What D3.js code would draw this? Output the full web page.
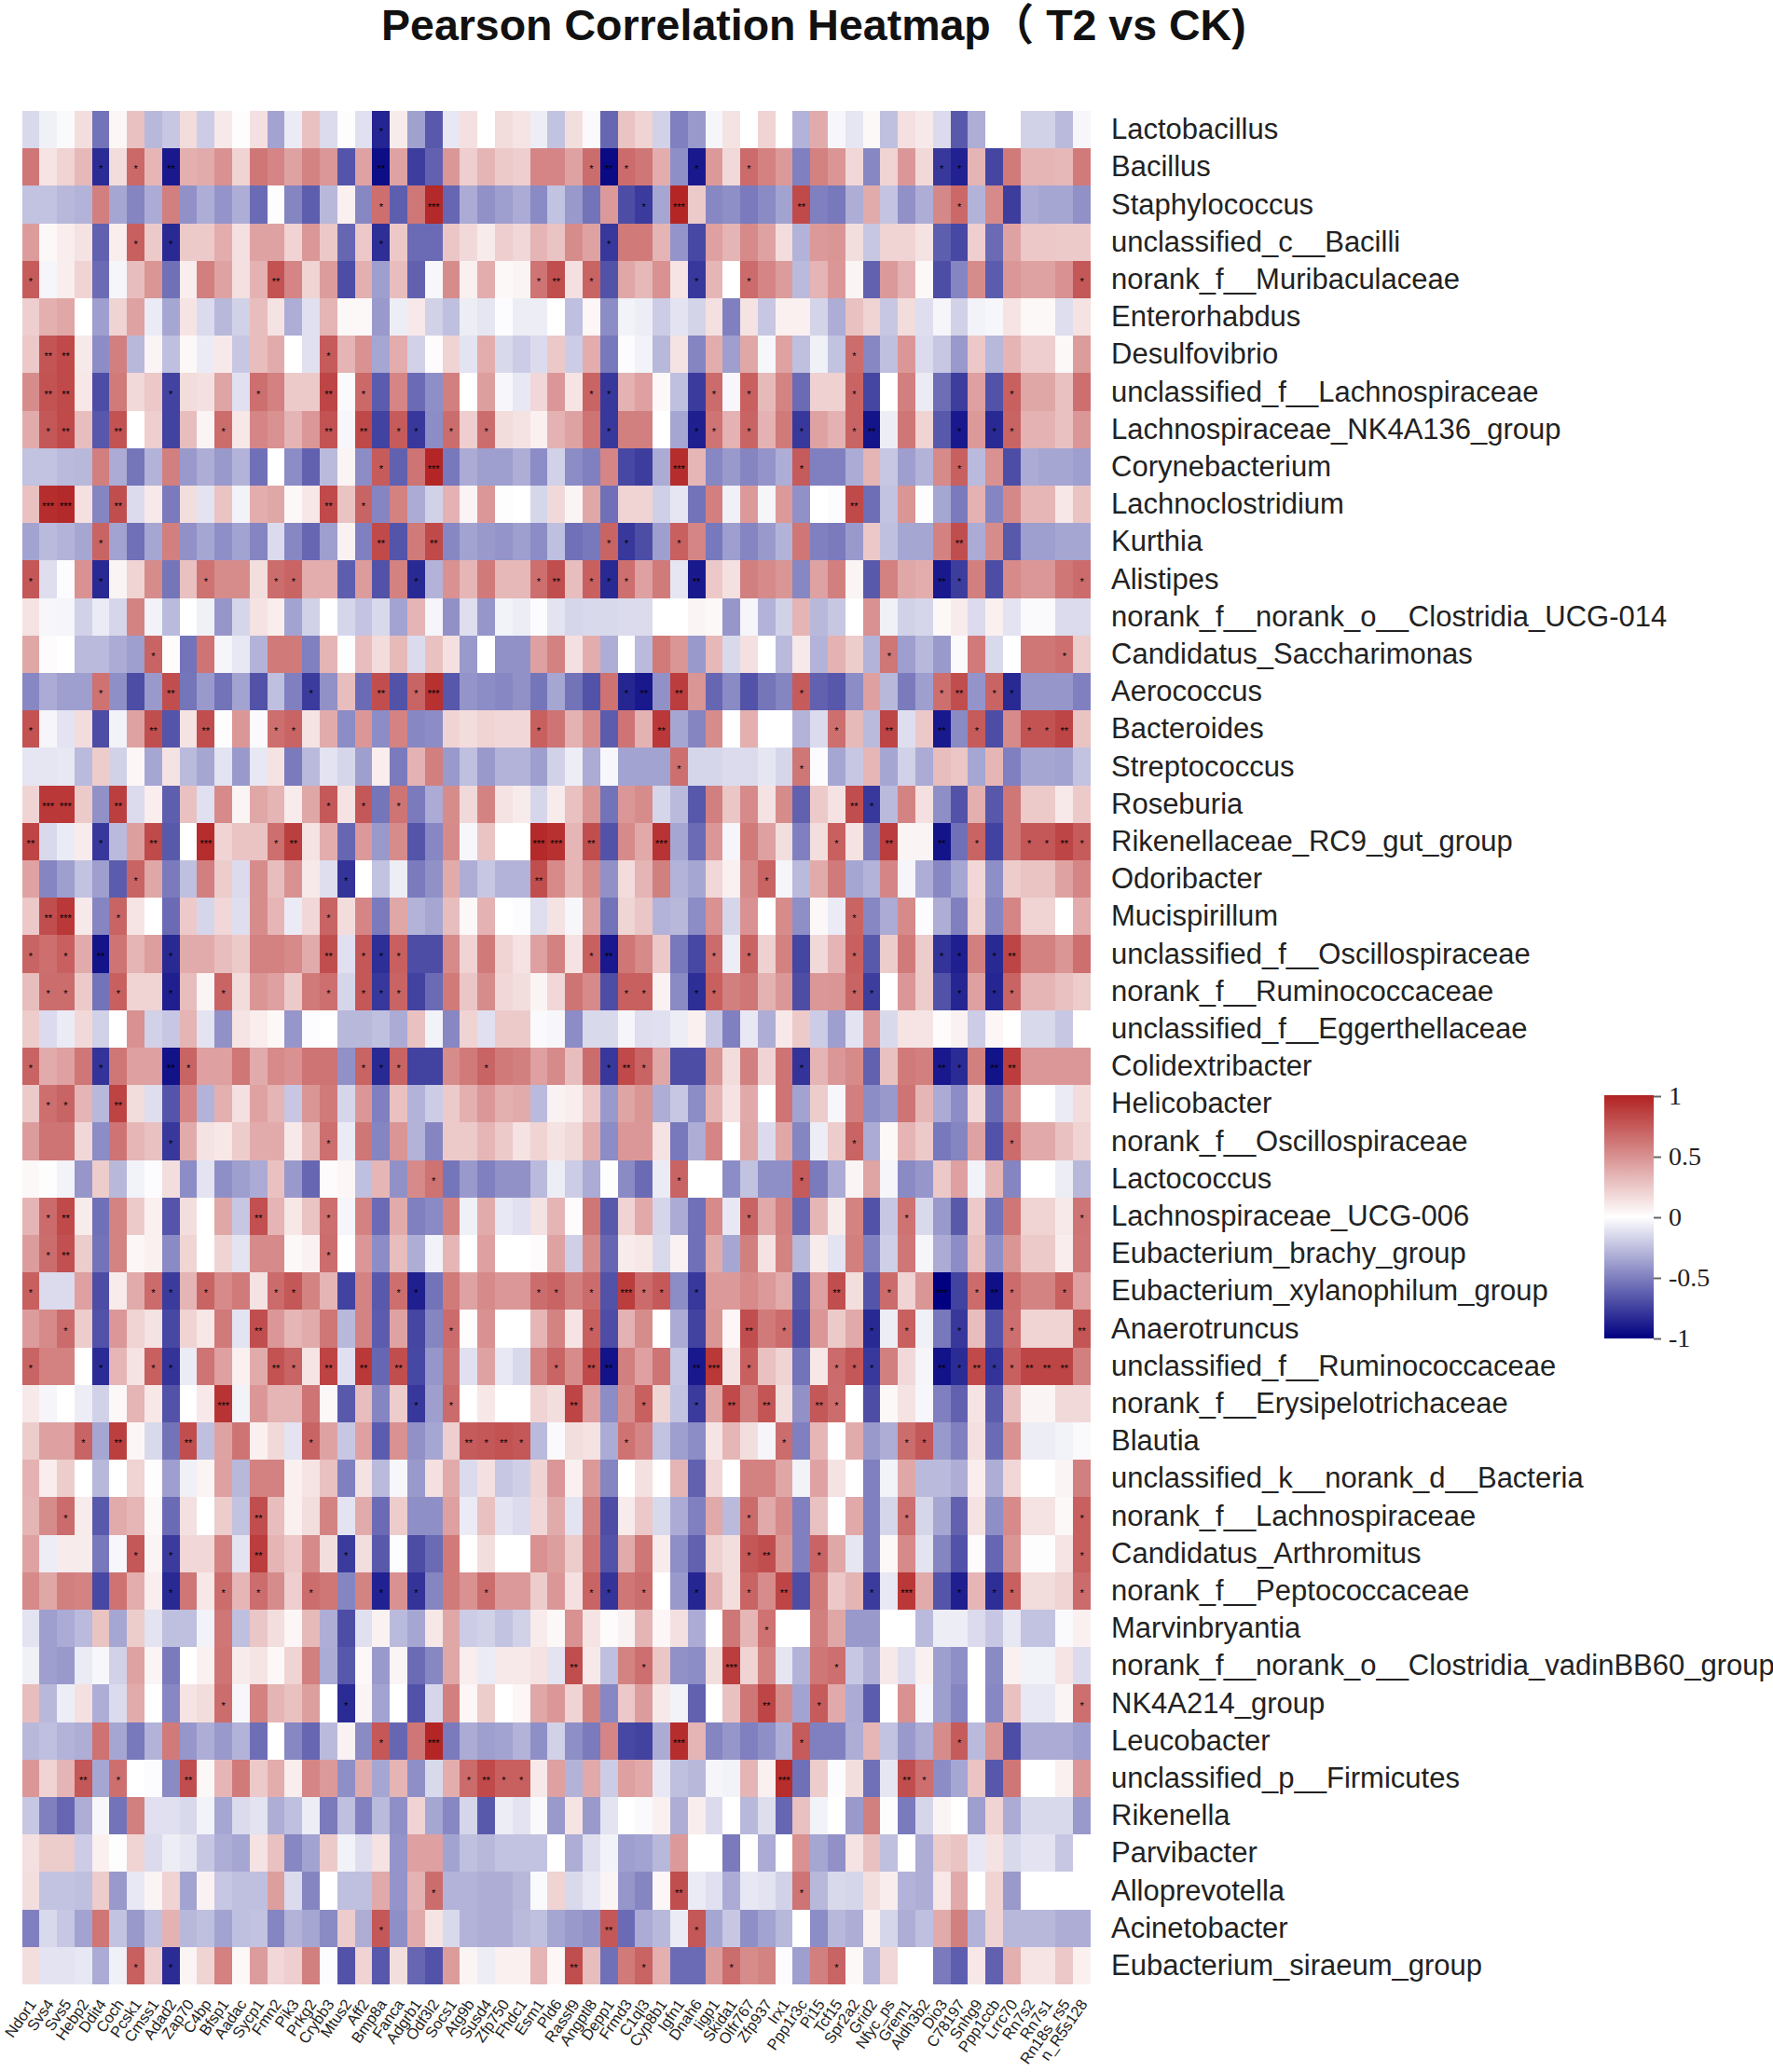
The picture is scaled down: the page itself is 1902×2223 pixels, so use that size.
<!DOCTYPE html>
<html>
<head>
<meta charset="utf-8">
<script src="https://cdn.jsdelivr.net/npm/d3@7"></script>
<style>
	html, body { margin: 0; padding: 0; background: #fff; }
	svg { display: block; }
	text { font-family: "Liberation Sans", Arial, sans-serif; fill: #111; }
</style>
</head>
<body>
<div id="chart"></div>
<script>
//Taxa down the right side, top to bottom
var taxa = ["Lactobacillus","Bacillus","Staphylococcus","unclassified_c__Bacilli","norank_f__Muribaculaceae","Enterorhabdus","Desulfovibrio","unclassified_f__Lachnospiraceae","Lachnospiraceae_NK4A136_group","Corynebacterium","Lachnoclostridium","Kurthia","Alistipes","norank_f__norank_o__Clostridia_UCG-014","Candidatus_Saccharimonas","Aerococcus","Bacteroides","Streptococcus","Roseburia","Rikenellaceae_RC9_gut_group","Odoribacter","Mucispirillum","unclassified_f__Oscillospiraceae","norank_f__Ruminococcaceae","unclassified_f__Eggerthellaceae","Colidextribacter","Helicobacter","norank_f__Oscillospiraceae","Lactococcus","Lachnospiraceae_UCG-006","Eubacterium_brachy_group","Eubacterium_xylanophilum_group","Anaerotruncus","unclassified_f__Ruminococcaceae","norank_f__Erysipelotrichaceae","Blautia","unclassified_k__norank_d__Bacteria","norank_f__Lachnospiraceae","Candidatus_Arthromitus","norank_f__Peptococcaceae","Marvinbryantia","norank_f__norank_o__Clostridia_vadinBB60_group","NK4A214_group","Leucobacter","unclassified_p__Firmicutes","Rikenella","Parvibacter","Alloprevotella","Acinetobacter","Eubacterium_siraeum_group"];

//Genes along the bottom, left to right
var genes = ["Ndor1","Svs4","Svs5","Hebp2","Ddit4","Coch","Pcsk1","Cmss1","Adad2","Zap70","C4bp","Bfsp1","Aadac","Sycp1","Fmn2","Pik3","Prkg2","Crybb3","Mtus2","Aff2","Bmp8a","Fanca","Adgrb1","Odf3l2","Socs1","Atg9b","Susd4","Zfp750","Fhdc1","Esm1","Pld6","Rassf9","Angptl8","Depp1","Frmd3","C1ql3","Cyp8b1","Igfn1","Dnah6","Iigp1","Skida1","Olfr767","Zfp937","Irx1","Ppp1r3c","Pi15","Tcf15","Spr2a2","Grid2","Nfyc_ps","Grem1","Aldh3b2","Dio3","C78197","Snhg9","Ppp1ccb","Lrrc70","Rn7s2","Rn7s1","Rn18s_rs5","n_R5s128"];

//Correlation x 100, one row per taxon
var corrRows = [
[-15,-6,-2,15,-55,4,28,-28,-22,16,-20,10,1,14,-36,-8,28,-14,1,-12,-86,9,-37,-65,-9,14,0,16,12,-7,-24,15,-2,-60,27,20,-18,-50,-40,-4,13,0,20,0,-30,38,-3,-10,3,-25,14,10,-14,-65,-32,0,0,-18,-18,-27,-3],
[62,12,20,32,-83,16,68,33,-90,36,38,50,20,62,55,42,56,47,-67,42,-95,42,-76,-62,47,22,34,24,22,55,55,42,66,-96,67,62,37,-44,-90,46,17,67,57,46,-50,57,48,18,-47,20,47,17,-78,-87,34,-73,60,34,34,32,60],
[-24,-24,-28,-30,58,-35,-48,-33,58,-43,-32,-42,-32,-58,1,-48,-63,-28,7,-47,65,-63,62,97,-60,-33,-43,-38,-33,-46,-24,-40,-55,46,-70,-77,-35,98,24,-47,-44,-52,-46,-36,82,-50,-53,-32,38,-23,-43,-32,54,68,-30,53,-76,-33,-35,-35,-43],
[45,3,8,13,-62,8,72,24,-84,24,24,37,14,42,42,20,47,25,-60,25,-82,25,-58,-58,26,17,9,22,18,34,27,52,42,-78,60,60,34,-42,-72,43,34,53,42,16,-30,46,48,15,-22,20,20,13,-63,-72,22,-58,42,25,25,24,24],
[74,-4,8,20,-58,-4,30,48,-56,8,58,42,14,35,78,55,20,45,-70,36,-38,30,-62,-3,52,7,37,3,5,63,80,14,70,-68,40,32,50,12,-78,33,0,67,55,45,-27,34,47,5,-62,46,35,3,-70,-48,52,-64,47,42,42,50,76],
[22,36,40,0,-38,20,42,-8,-35,12,-14,-28,-18,30,13,-32,-12,34,3,3,-40,-7,10,-18,-25,-7,-10,-1,-7,-7,0,-25,4,-45,-5,-7,-20,-11,-17,14,-50,13,-22,7,7,-17,-32,28,20,-22,16,-13,-4,-18,-5,-3,12,3,3,-13,13],
[25,77,82,10,-45,58,-28,5,-25,3,-8,10,-22,30,38,0,-12,74,34,50,-35,37,-18,2,20,-11,37,-15,-20,-14,25,-20,37,-53,-1,-5,-28,13,-48,37,-38,40,-3,42,-25,-6,-24,66,-47,-25,47,-14,-22,-40,25,-28,34,22,22,3,45],
[52,78,82,11,-70,60,17,25,-74,16,14,41,-12,65,57,24,24,84,-2,68,-64,55,-58,-44,58,0,44,-3,-9,18,47,12,70,-78,35,43,3,-25,-77,67,-3,72,31,56,-58,21,21,70,-73,0,58,-8,-57,-76,43,-68,72,40,40,28,65],
[38,76,82,30,-66,78,0,22,-74,30,5,66,11,55,50,34,47,78,-3,83,-74,74,-78,-45,66,22,66,16,13,7,35,42,63,-78,58,58,0,-35,-88,63,35,70,35,60,-78,42,35,70,-92,-7,62,20,-65,-90,46,-84,70,35,35,28,47],
[-24,-24,-27,-28,58,-33,-54,-30,58,-40,-32,-40,-30,-56,0,-45,-62,-27,5,-45,74,-62,63,98,-53,-33,-38,-38,-32,-45,-18,-45,-50,55,-72,-76,-33,95,33,-47,-40,-48,-42,-32,74,-50,-50,-33,34,-22,-38,-30,53,72,-27,50,-70,-33,-35,-35,-38],
[28,95,97,14,-48,80,-14,10,-52,15,-11,27,-5,37,40,3,11,82,27,70,-48,57,-33,-18,35,5,47,1,0,-16,17,5,40,-56,20,20,-19,-10,-55,58,-6,46,-4,46,-43,0,-1,82,-57,-24,48,1,-35,-52,35,-48,54,33,33,11,27],
[-36,-27,-30,-35,70,-36,-56,-35,58,-43,-35,-44,-36,-48,-14,-47,-60,-38,6,-50,82,-67,60,82,-47,-36,-40,-42,-38,-45,-25,-56,-53,70,-78,-70,-38,72,55,-53,-38,-48,-40,-30,62,-50,-52,-40,25,-25,-35,-35,57,80,-33,52,-65,-38,-38,-35,-35],
[76,-13,-1,50,-84,5,20,52,-54,28,64,52,52,15,66,70,37,37,-63,45,-68,57,-84,-30,50,33,60,32,32,65,80,30,72,-84,65,43,60,-10,-90,25,14,58,53,48,-47,42,58,5,-65,57,40,37,-90,-76,58,-70,53,47,47,62,67],
[13,-3,-4,-18,-8,-16,56,-5,-27,0,-6,-41,-16,13,8,-36,-18,0,-16,-23,-15,-36,34,-4,-43,-13,-41,-5,-7,-1,-11,-16,-15,-15,-14,-14,0,0,5,3,-41,-4,-30,-18,34,-28,-22,0,50,-6,-18,-16,3,9,-14,7,-11,-2,-2,-14,-14],
[40,2,0,-27,-27,-33,-38,70,2,-55,63,-4,-9,-30,60,60,-50,34,1,30,16,31,-14,28,14,-40,0,-43,-43,43,57,14,37,-32,0,-27,60,48,-40,32,-15,14,0,-27,10,-30,35,23,-30,62,-38,-28,-40,-2,60,-15,0,62,62,65,23],
[-47,-33,-38,-38,64,-44,-70,-40,80,-54,-40,-55,-36,-68,-25,-50,-77,-43,30,-58,80,-68,70,93,-66,-42,-45,-47,-43,-54,-35,-55,-68,64,-85,-90,-43,88,48,-60,-46,-68,-54,-48,74,-62,-66,-45,43,-28,-52,-38,65,80,-42,70,-84,-41,-41,-41,-50],
[78,-4,-11,16,-70,-5,42,80,-67,13,80,1,47,-2,65,70,13,38,-45,47,-45,56,-47,-45,20,16,20,18,18,72,63,35,53,-64,63,35,90,-35,-48,52,0,36,0,0,-30,-14,65,31,-27,84,-13,25,-90,-46,74,-70,53,78,78,84,27],
[-10,-10,-9,-27,23,-18,4,-35,13,-27,-35,-11,-40,-9,13,-52,-27,-11,-16,-38,8,-52,35,58,-40,-25,-40,-30,-30,-38,-18,-7,-33,-3,-36,-36,-36,65,-16,-16,-14,-14,-10,-16,62,-1,-35,-22,33,-35,-18,-33,30,26,-35,33,-50,-35,-35,-36,-24],
[20,90,90,24,-43,87,-14,8,-63,28,-12,53,5,40,34,9,40,75,13,76,-54,63,-52,-33,52,17,56,13,9,-16,9,28,48,-55,47,52,-16,-27,-66,58,26,53,13,52,-62,24,13,80,-78,-27,56,14,-44,-68,36,-66,62,24,24,10,24],
[84,-15,-8,9,-78,-27,44,82,-65,0,95,20,27,27,65,87,13,37,-60,46,-40,52,-67,-47,53,-3,27,0,0,97,93,33,80,-68,53,39,92,-35,-58,47,-4,60,43,15,-50,15,72,13,-52,88,5,5,-92,-56,70,-74,62,76,76,84,74],
[42,-48,-38,-24,-38,-64,70,40,-52,-25,58,23,-14,52,30,50,10,-13,-80,0,-24,-7,-52,-43,38,-32,-22,-30,-30,80,53,33,52,-43,16,34,58,-30,-35,18,7,53,70,-4,-27,38,60,-35,-30,55,-4,-32,-47,-35,18,-44,23,27,27,42,55],
[25,80,90,10,-48,70,12,0,-58,24,-16,18,-13,52,33,-8,18,70,16,55,-52,40,-30,-35,30,3,35,0,-1,-13,13,-3,42,-55,19,26,-30,-28,-45,50,-16,50,0,52,-44,3,-8,70,-47,-33,53,-1,-32,-50,20,-48,55,20,20,0,37],
[70,65,72,38,-92,63,34,44,-84,38,38,30,24,57,57,53,38,80,-12,76,-82,72,-70,-70,53,20,60,20,13,43,57,13,72,-90,62,53,25,-53,-72,67,-7,70,21,57,-73,17,34,72,-65,23,60,23,-80,-88,58,-84,84,57,57,48,65],
[30,66,66,24,-55,72,20,20,-88,30,5,70,16,48,43,24,60,65,-16,76,-78,70,-74,-58,60,26,52,18,15,5,18,63,53,-70,72,72,6,-46,-82,72,58,62,35,47,-70,47,48,70,-76,0,47,23,-68,-85,43,-85,70,34,34,28,23],
[23,-14,-8,17,-18,0,50,-18,-22,34,-11,-43,12,8,3,-41,-1,0,-28,-28,-25,-33,28,-5,-47,20,-12,24,24,-2,-3,-45,-15,-15,-4,-13,-12,-7,7,-22,-50,-9,-32,10,24,-20,-38,-11,47,-15,12,12,2,6,-20,4,0,-15,-15,-22,0],
[70,38,43,62,-80,62,43,43,-93,70,43,43,62,38,53,50,63,63,-43,70,-84,70,-74,-74,52,60,70,60,58,43,53,30,66,-78,82,70,40,-70,-70,48,16,58,20,63,-80,34,47,53,-62,28,60,58,-90,-83,58,-93,88,47,47,47,47],
[24,65,70,34,-28,85,16,-13,-67,55,-30,36,14,42,34,-22,48,60,-16,47,-50,28,-30,-20,24,36,47,36,38,-27,6,8,25,-40,41,48,-32,-22,-45,34,13,39,0,63,-36,23,-3,58,-45,-40,63,33,-33,-45,17,-58,53,0,0,-8,16],
[45,63,63,18,-45,63,33,28,-78,38,13,11,23,38,38,10,31,65,-8,62,-48,48,-30,-48,24,24,33,24,13,20,13,17,37,-45,47,47,13,-53,-32,55,0,40,-14,40,-48,-7,23,70,-33,3,34,24,-53,-48,42,-68,67,39,39,28,20],
[3,1,-5,-41,23,-28,-5,-1,15,-45,-11,-44,-38,-33,28,-40,-60,2,4,-25,33,-43,53,64,-54,-40,-50,-43,-43,-27,-7,-20,-33,1,-46,-58,-8,70,0,0,-45,-24,-44,-44,74,-52,-33,5,41,-4,-46,-41,25,43,-5,33,-48,0,0,-7,-28],
[34,67,82,9,-56,56,24,7,-67,15,0,40,-22,79,34,11,27,65,-4,57,-58,38,-50,-46,56,-6,38,-9,-12,13,34,2,62,-65,20,39,-16,-33,-56,53,-9,70,39,58,-60,33,9,56,-68,-22,64,-15,-40,-65,24,-55,62,20,20,10,63],
[45,66,79,23,-55,56,4,7,-46,19,0,20,-11,53,53,3,6,66,0,47,-45,30,-32,-5,33,0,43,0,0,2,42,-19,52,-60,9,11,-15,6,-56,38,-35,58,13,56,-28,9,-11,58,-50,-19,62,-4,-33,-45,28,-44,48,24,24,8,62],
[72,-14,-14,43,-70,9,38,67,-77,34,70,53,60,13,67,76,56,34,-74,56,-65,65,-88,-55,60,42,53,47,47,66,70,58,67,-68,88,67,75,-45,-78,46,46,53,46,38,-65,43,80,15,-67,67,20,48,-100,-74,67,-94,67,56,56,72,43],
[45,53,67,23,-68,47,20,13,-72,20,11,60,-11,80,47,33,38,62,-28,56,-64,42,-73,-48,67,1,50,0,0,33,56,12,72,-70,35,52,0,-33,-74,48,4,80,60,67,-70,47,24,39,-84,-7,72,-6,-53,-78,30,-68,65,20,20,20,77],
[70,57,57,0,-83,33,13,72,-80,-8,63,43,7,38,78,70,12,85,-12,90,-60,80,-72,-41,63,-12,42,-9,-15,56,70,52,82,-93,58,43,63,-22,-90,90,13,72,28,20,-55,11,67,76,-78,58,17,-4,-93,-83,82,-80,72,84,84,84,58],
[10,-4,0,-7,-18,3,34,11,-68,0,10,92,-5,47,34,34,63,3,-65,30,-48,23,-78,-38,67,0,11,0,0,20,15,84,43,-45,52,72,19,-24,-77,41,82,58,77,15,-43,76,66,0,-70,3,13,-3,-50,-62,12,-64,30,5,5,17,17],
[23,43,43,70,-35,87,4,-15,-55,80,-25,42,63,7,17,-11,70,42,-22,43,-64,50,-43,-35,22,74,76,78,76,-27,-2,15,13,-33,64,55,-24,-38,-45,12,33,15,-4,66,-50,33,0,38,-40,-32,66,76,-40,-50,14,-58,50,-7,-7,-5,-2],
[35,8,23,0,-28,0,20,1,-38,-6,5,43,-28,57,57,7,12,28,-50,13,-27,-3,-40,14,38,-14,14,-22,-19,20,47,7,46,-48,0,14,0,34,-62,18,0,57,57,40,-5,42,13,0,-50,-5,40,-27,-27,-32,8,-32,18,0,0,5,58],
[34,52,67,9,-65,38,33,3,-58,14,0,23,-24,80,30,7,15,56,-11,38,-58,23,-44,-44,43,-8,28,-11,-14,18,38,-11,58,-70,9,25,-15,-33,-50,39,-27,67,39,53,-50,28,0,39,-50,-16,65,-16,-35,-62,13,-44,53,13,13,3,72],
[42,-7,9,9,-53,-3,76,5,-77,18,18,56,-11,88,34,25,53,15,-77,15,-65,1,-70,-58,60,0,15,0,0,50,44,23,63,-68,38,62,9,-44,-62,21,15,76,80,48,-50,70,40,-10,-50,3,53,-11,-48,-68,2,-60,48,1,1,12,72],
[53,40,58,56,-72,64,37,8,-84,62,11,66,33,66,52,22,66,62,-48,56,-87,50,-80,-48,60,50,66,46,46,23,47,14,70,-80,62,66,0,-40,-85,35,15,70,52,84,-70,60,25,34,-77,-9,90,38,-67,-88,33,-82,72,16,16,20,67],
[-11,-38,-33,-27,27,-35,23,-11,-25,-25,-5,62,-25,26,15,4,31,-32,-70,-12,6,-27,-35,11,40,-20,-18,-24,-18,9,3,50,12,2,6,34,4,14,-33,0,62,33,64,0,0,58,40,-40,-40,0,0,-27,-7,-7,-14,-22,-9,-24,-24,-2,7],
[-6,-38,-40,-8,-3,-18,42,5,-52,0,7,63,9,12,3,20,58,-33,-66,3,-40,5,-58,-47,40,8,-8,10,10,13,-11,80,10,-25,56,65,26,-43,-45,15,88,20,57,-10,-30,62,65,-22,-32,10,-13,7,-38,-44,0,-46,7,-5,-5,12,-14],
[30,-28,-7,14,-32,-14,38,0,-47,12,16,66,-3,57,34,28,44,0,-83,5,-36,0,-68,-16,58,4,23,0,4,40,47,20,56,-47,25,45,10,-5,-62,0,28,62,84,52,-36,74,39,-33,-64,0,50,-3,-38,-48,0,-47,28,-9,-9,5,65],
[-28,-25,-30,-32,64,-35,-53,-30,60,-41,-32,-40,-30,-57,0,-47,-60,-27,6,-46,76,-60,62,98,-52,-33,-38,-36,-30,-44,-18,-44,-52,55,-72,-74,-33,95,34,-48,-41,-50,-44,-32,74,-50,-50,-32,33,-24,-40,-32,52,74,-27,48,-70,-33,-33,-33,-38],
[47,20,34,76,-35,65,0,-1,-46,80,3,33,60,24,37,8,55,46,-44,38,-35,34,-44,-15,37,67,82,72,72,10,43,-30,39,-20,43,39,-9,-25,-28,-4,-5,34,7,95,-56,23,-1,15,-56,-10,80,65,-45,-35,27,-66,62,0,0,7,47],
[-22,-50,-60,-32,-3,-55,58,-12,-12,-15,-5,-35,-14,-11,-32,-25,-7,-52,-25,-50,-27,-44,20,-35,-47,-16,-65,-7,-11,-2,-40,12,-40,-11,0,-2,7,-32,8,-14,0,-28,-13,-60,28,-5,0,-40,58,1,-52,-16,5,0,-38,20,-33,-15,-15,-15,-40],
[14,23,23,-20,7,1,20,-14,-7,-10,-22,-32,-35,13,28,-47,-36,24,-5,-13,13,-42,43,43,-36,-25,-28,-24,-24,-24,0,-32,-13,-5,-38,-36,-28,46,0,0,-52,0,-33,0,50,-35,-43,13,28,-25,0,-32,23,27,-9,13,-15,-11,-11,-22,0],
[15,-24,-24,-25,23,-40,-9,5,20,-36,6,-22,-25,-25,44,-14,-48,0,-25,-25,39,-42,35,66,-30,-30,-32,-32,-28,-2,20,-15,-9,5,-41,-48,4,80,-8,-12,-33,-9,-11,-18,63,-28,-15,-16,15,8,-30,-32,11,39,0,20,-40,0,0,0,0],
[-50,-15,-22,-36,62,-24,-40,-25,35,-28,-25,-36,-25,-24,-48,-30,-35,-46,23,-32,76,-44,38,12,-15,-30,-32,-32,-27,-25,-35,-40,-43,76,-58,-33,-28,-8,76,-35,-22,-44,-36,-28,0,-45,-28,-32,7,-16,-32,-25,38,58,-30,20,-28,-28,-28,-32,-32],
[15,-11,-11,-9,-33,-6,72,22,-83,5,20,57,3,45,18,22,58,-1,-68,20,-66,15,-60,-68,45,5,-7,7,7,34,4,80,30,-56,60,70,36,-58,-58,45,66,52,56,-1,-38,58,70,3,-30,18,0,0,-52,-63,11,-62,36,12,12,25,7]
];

//Significance marks: [row, column, stars], 1-based like the picture
var sigMarks = [
[1,21,1],
[2,5,1],[2,7,1],[2,9,2],[2,21,2],[2,33,1],[2,34,2],[2,35,1],[2,39,1],[2,42,1],[2,53,1],[2,54,1],
[3,21,1],[3,24,3],[3,36,1],[3,38,3],[3,45,2],[3,54,1],
[4,7,1],[4,9,1],[4,21,1],[4,34,1],
[5,1,1],[5,15,2],[5,30,1],[5,31,2],[5,33,1],[5,39,1],[5,42,1],[5,61,1],
[7,2,2],[7,3,2],[7,18,1],[7,48,1],
[8,2,2],[8,3,2],[8,9,1],[8,14,1],[8,18,2],[8,20,1],[8,33,1],[8,34,1],[8,40,1],[8,42,1],[8,48,1],[8,57,1],
[9,2,1],[9,3,2],[9,6,2],[9,12,1],[9,18,2],[9,20,2],[9,22,1],[9,23,1],[9,25,1],[9,27,1],[9,34,1],[9,39,1],[9,40,1],[9,42,1],[9,45,1],[9,48,1],[9,49,2],[9,54,1],[9,56,1],[9,57,1],
[10,21,1],[10,24,3],[10,38,3],[10,45,1],[10,54,1],
[11,2,3],[11,3,3],[11,6,2],[11,18,2],[11,20,1],[11,48,2],
[12,5,1],[12,21,2],[12,24,2],[12,34,1],[12,35,1],[12,38,1],[12,54,2],
[13,1,1],[13,5,1],[13,11,1],[13,15,1],[13,16,1],[13,23,1],[13,30,1],[13,31,2],[13,33,1],[13,34,1],[13,35,1],[13,39,2],[13,53,2],[13,54,1],[13,61,1],
[15,8,1],[15,50,1],[15,60,1],
[16,5,1],[16,9,2],[16,17,1],[16,21,2],[16,23,1],[16,24,3],[16,35,1],[16,36,2],[16,38,2],[16,45,1],[16,53,1],[16,54,2],[16,56,1],[16,57,1],
[17,1,1],[17,8,2],[17,11,2],[17,15,1],[17,16,1],[17,30,1],[17,37,2],[17,47,1],[17,50,2],[17,53,2],[17,55,1],[17,58,1],[17,59,1],[17,60,2],
[18,38,1],[18,45,1],
[19,2,3],[19,3,3],[19,6,2],[19,18,1],[19,20,1],[19,22,1],[19,48,2],[19,49,1],
[20,1,2],[20,5,1],[20,8,2],[20,11,3],[20,15,1],[20,16,2],[20,30,3],[20,31,3],[20,33,2],[20,37,3],[20,47,1],[20,50,2],[20,53,2],[20,55,1],[20,58,1],[20,59,1],[20,60,2],[20,61,1],
[21,7,1],[21,19,1],[21,30,2],[21,43,1],
[22,2,2],[22,3,3],[22,6,1],[22,18,1],[22,48,1],
[23,1,1],[23,3,1],[23,5,2],[23,9,1],[23,18,2],[23,20,1],[23,21,1],[23,22,1],[23,33,1],[23,34,2],[23,40,1],[23,42,1],[23,48,1],[23,53,1],[23,54,1],[23,56,1],[23,57,2],
[24,2,1],[24,3,1],[24,6,1],[24,9,1],[24,12,1],[24,18,1],[24,20,1],[24,21,1],[24,22,1],[24,35,1],[24,36,1],[24,39,1],[24,40,1],[24,48,1],[24,49,1],[24,54,1],[24,56,1],[24,57,1],
[26,1,1],[26,5,1],[26,9,2],[26,10,1],[26,20,1],[26,21,1],[26,22,1],[26,27,1],[26,34,1],[26,35,2],[26,36,1],[26,45,1],[26,53,2],[26,54,1],[26,56,2],[26,57,2],
[27,2,1],[27,3,1],[27,6,2],
[28,9,1],[28,18,1],[28,48,1],[28,57,1],
[29,24,1],[29,38,1],[29,45,1],
[30,2,1],[30,3,2],[30,14,2],[30,18,1],[30,42,1],[30,51,1],[30,61,1],
[31,2,1],[31,3,2],[31,18,1],
[32,1,1],[32,8,1],[32,9,1],[32,11,1],[32,15,1],[32,16,1],[32,22,1],[32,23,1],[32,30,1],[32,31,1],[32,33,1],[32,35,3],[32,36,1],[32,37,1],[32,39,1],[32,47,2],[32,50,1],[32,53,3],[32,55,1],[32,56,2],[32,57,1],[32,60,1],
[33,3,1],[33,14,2],[33,25,1],[33,33,1],[33,42,2],[33,44,1],[33,49,1],[33,51,1],[33,54,1],[33,57,1],[33,61,2],
[34,1,1],[34,5,1],[34,8,1],[34,9,1],[34,15,2],[34,16,1],[34,18,2],[34,20,2],[34,22,2],[34,31,1],[34,33,2],[34,34,2],[34,39,2],[34,40,3],[34,42,1],[34,47,1],[34,48,1],[34,49,1],[34,53,2],[34,54,1],[34,55,2],[34,56,1],[34,57,1],[34,58,2],[34,59,2],[34,60,2],
[35,12,3],[35,23,1],[35,25,1],[35,32,2],[35,36,1],[35,39,1],[35,41,2],[35,43,2],[35,46,2],[35,47,1],
[36,4,1],[36,6,2],[36,10,2],[36,17,1],[36,26,2],[36,27,1],[36,28,2],[36,29,1],[36,35,1],[36,44,1],[36,51,1],[36,52,1],
[38,3,1],[38,14,2],[38,42,1],[38,51,1],[38,61,1],
[39,7,1],[39,9,1],[39,14,2],[39,19,1],[39,42,1],[39,43,2],[39,46,1],[39,61,1],
[40,9,1],[40,12,1],[40,14,1],[40,17,1],[40,21,1],[40,23,1],[40,27,1],[40,33,1],[40,34,1],[40,36,1],[40,39,1],[40,42,1],[40,44,2],[40,49,1],[40,51,3],[40,54,1],[40,56,1],[40,57,1],[40,61,1],
[41,43,1],
[42,32,2],[42,36,1],[42,41,3],[42,47,1],
[43,12,1],[43,19,1],[43,43,2],[43,46,1],[43,61,1],
[44,21,1],[44,24,3],[44,38,3],[44,45,1],[44,54,1],
[45,4,2],[45,6,1],[45,10,2],[45,26,1],[45,27,2],[45,28,1],[45,29,1],[45,44,3],[45,51,2],[45,52,1],
[48,24,1],[48,38,2],[48,45,1],
[49,21,1],[49,34,2],[49,39,1],
[50,7,1],[50,9,1],[50,32,2],[50,36,1],[50,41,1],[50,47,1]
];

var legendTicks = [-1, -0.5, 0, 0.5, 1];

///////////////////////////////////////////////////////////////////////////
//////////////////////////// Set up the SVG ///////////////////////////////
///////////////////////////////////////////////////////////////////////////

var width = 1902,
	height = 2223;

var svg = d3.select("#chart").append("svg")
	.attr("width", width)
	.attr("height", height);

var x = d3.scaleBand().domain(d3.range(genes.length)).range([23.5, 1170]);
var y = d3.scaleBand().domain(d3.range(taxa.length)).range([119, 2129]);

var color = d3.scaleLinear()
	.domain([-1, 0, 1])
	.range(["#000080", "#ffffff", "#B22222"]);

//Title, the wide bracket sits at the right of its em box like in the original
svg.append("text")
	.attr("x", 409)
	.attr("y", 43)
	.style("font-size", "46.5px")
	.style("font-weight", "bold")
	.style("font-family", "'Liberation Sans', 'Noto Sans CJK SC', sans-serif")
	.text("Pearson Correlation Heatmap（ T2 vs CK)");

///////////////////////////////////////////////////////////////////////////
//////////////////////////// Draw the cells ///////////////////////////////
///////////////////////////////////////////////////////////////////////////

var rows = svg.append("g").selectAll("g")
	.data(corrRows)
	.enter().append("g");

rows.selectAll("rect")
	.data(function(d, i) { return d.map(function(v, j) { return {row: i, col: j, value: v / 100}; }); })
	.enter().append("rect")
	.attr("x", function(d) { return x(d.col); })
	.attr("y", function(d) { return y(d.row); })
	.attr("width", x.bandwidth())
	.attr("height", y.bandwidth())
	.attr("shape-rendering", "crispEdges")
	.style("fill", function(d) { return color(d.value); });

//The stars
svg.append("g").selectAll("text")
	.data(sigMarks)
	.enter().append("text")
	.attr("x", function(d) { return x(d[1] - 1) + x.bandwidth()/2; })
	.attr("y", function(d) { return y(d[0] - 1) + y.bandwidth()/2 + 6; })
	.attr("text-anchor", "middle")
	.style("font-size", "11px")
	.style("fill", "#000")
	.text(function(d) { return "*".repeat(d[2]); });

///////////////////////////////////////////////////////////////////////////
//////////////////////////// Labels ///////////////////////////////////////
///////////////////////////////////////////////////////////////////////////

svg.append("g").selectAll("text")
	.data(taxa)
	.enter().append("text")
	.attr("x", 1192)
	.attr("y", function(d, i) { return y(i) + y.bandwidth()/2 - 1; })
	.attr("dy", "0.36em")
	.style("font-size", "31px")
	.style("fill", "#222")
	.text(function(d) { return d; });

svg.append("g").selectAll("text")
	.data(genes)
	.enter().append("text")
	.attr("transform", function(d, i) {
		return "translate(" + (x(i) + x.bandwidth()/2 + 2) + ",2147) rotate(-55)";
	})
	.attr("text-anchor", "end")
	.attr("dy", "0.35em")
	.style("font-size", "16.5px")
	.style("fill", "#222")
	.text(function(d) { return d; });

///////////////////////////////////////////////////////////////////////////
//////////////////////////// Colour legend ////////////////////////////////
///////////////////////////////////////////////////////////////////////////

var legendY = d3.scaleLinear().domain([1, -1]).range([1176, 1436]);

var gradient = svg.append("defs").append("linearGradient")
	.attr("id", "legend-gradient")
	.attr("x1", 0).attr("y1", 0)
	.attr("x2", 0).attr("y2", 1);
gradient.selectAll("stop")
	.data(d3.range(0, 1.01, 0.1))
	.enter().append("stop")
	.attr("offset", function(d) { return d; })
	.attr("stop-color", function(d) { return color(1 - 2*d); });

svg.append("rect")
	.attr("x", 1721)
	.attr("y", 1175)
	.attr("width", 53)
	.attr("height", 261)
	.style("fill", "url(#legend-gradient)");

//Plain hyphen on the negative ticks, like the original
var legendAxis = svg.append("g")
	.attr("transform", "translate(1774,0)")
	.call(d3.axisRight(legendY).tickValues(legendTicks).tickSize(8).tickPadding(8).tickFormat(function(d) { return String(d); }));

legendAxis.select(".domain").remove();
legendAxis.selectAll("line").style("stroke", "#666").style("stroke-width", 2);
legendAxis.selectAll("text")
	.style("font-family", "'Liberation Serif', 'Times New Roman', serif")
	.style("font-size", "28px")
	.style("fill", "#222");
</script>
</body>
</html>
